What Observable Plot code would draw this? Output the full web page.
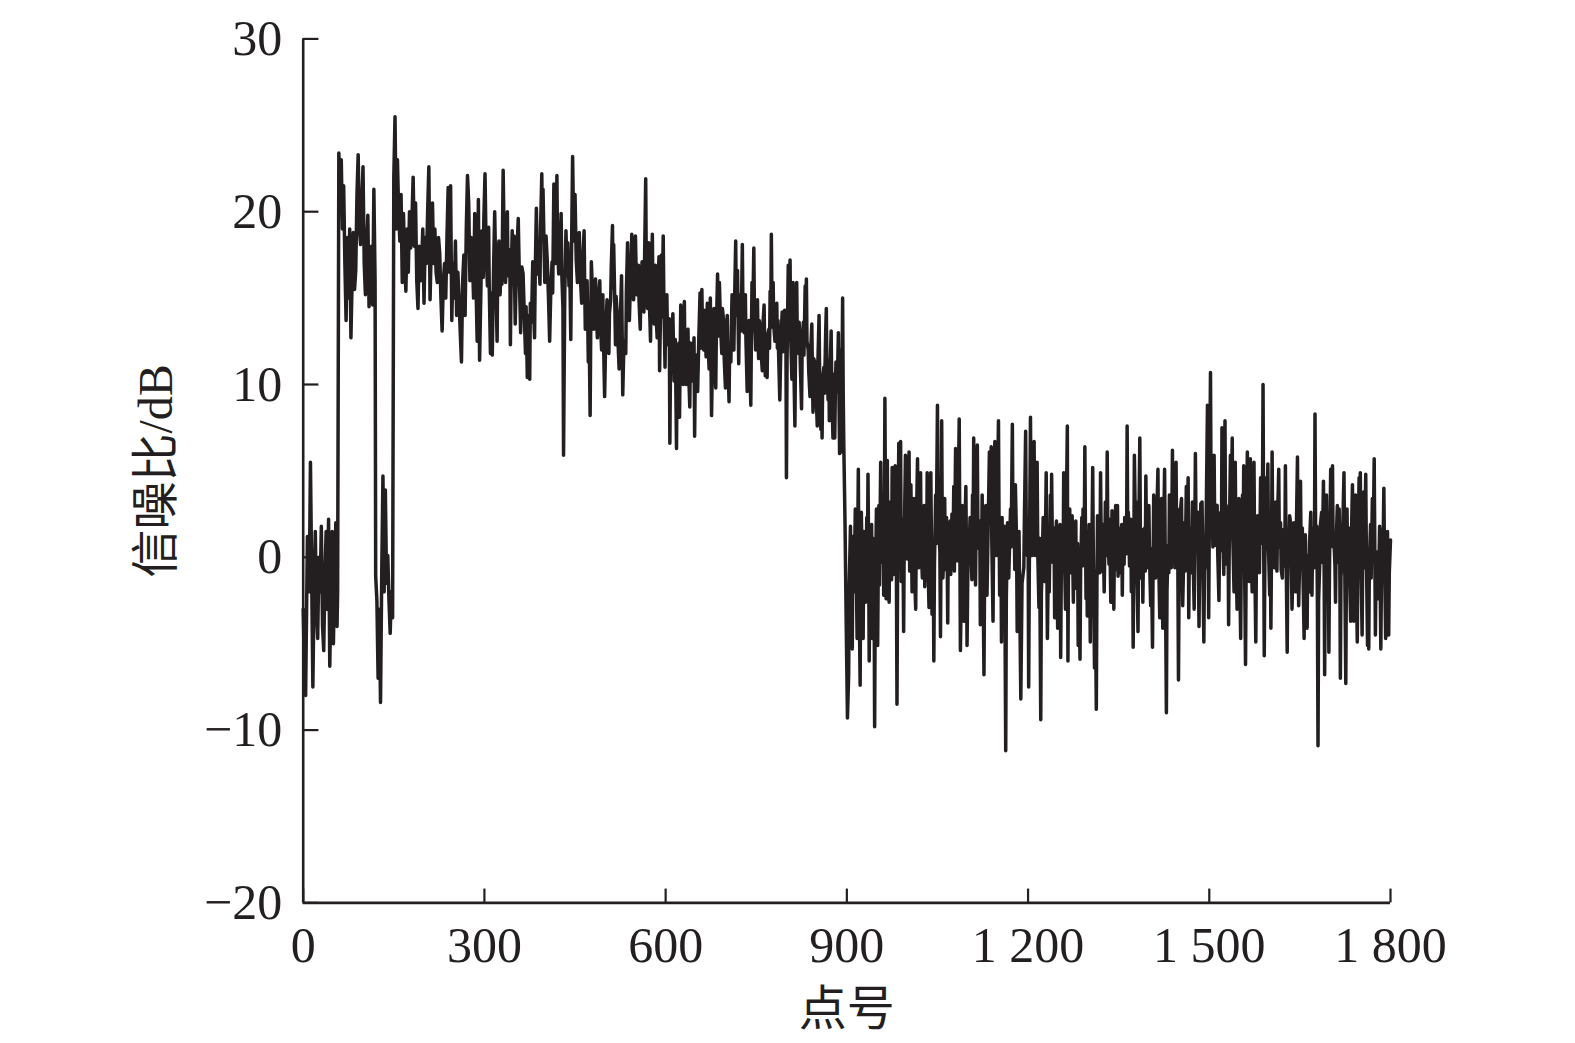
<!DOCTYPE html>
<html>
<head>
<meta charset="utf-8">
<script src="https://cdn.jsdelivr.net/npm/d3@7"></script>
<script src="https://cdn.jsdelivr.net/npm/@observablehq/plot@0.6"></script>
<style>
  html, body { margin: 0; padding: 0; background: #ffffff; }
  #chart { width: 1575px; height: 1043px; }
</style>
</head>
<body>
<div id="chart"></div>
<script>
// [point number, SNR (dB)]
const seg0to300 = [[0,-3],[2,-6.5],[4,-8],[7,1.2],[10,-2],[12,5.5],[14,-1],[16,-7.5],[18,-2],[20,1.5],[22,-3],[24,-4.7],[26,0],[28,-2],[30,1.8],[32,-4],[34,-5.4],[36,-1],[38,1.5],[40,-3],[42,2.2],[44,-6.3],[46,-2],[48,1.5],[50,-5],[52,-1],[54,2],[56,-4],[57,-2],[59,23.4],[61,20],[63,23],[65,19],[67,21.5],[69,17],[71,13.7],[73,18.5],[75,15],[77,19],[79,12.7],[81,16],[83,18.8],[85,15.5],[87,16.6],[89,21],[91,23.3],[93,19],[95,18.1],[97,20.5],[99,22.6],[101,17],[103,15.2],[105,18],[107,19.8],[109,14.5],[111,17.5],[113,18],[115,14.6],[117,21.3],[119,16],[120,-1.1],[122,-2.5],[124,-7],[126,-3],[128,-8.4],[130,-1],[132,4.7],[134,-2],[136,3.9],[138,-1.5],[140,0.1],[142,-2.5],[144,-4.4],[146,-2],[148,-3.5],[150,22],[152,25.5],[154,19],[156,23],[158,20],[160,18.3],[162,21],[164,15.9],[166,19.9],[168,17],[170,15.4],[172,19],[174,16.5],[176,20],[178,17.9],[180,19.5],[182,22],[184,18],[186,20.5],[188,16],[190,14.4],[192,18],[194,16],[196,17],[198,19],[200,14.7],[202,18.5],[204,17],[206,20],[208,22.6],[210,14.9],[212,18],[214,20.5],[216,17],[218,19],[220,16.5],[222,15.9],[224,18.5],[226,17.6],[228,15],[230,13.1],[232,16],[234,17],[236,15],[238,18.5],[240,21.4],[242,16.5],[244,21.5],[246,13.7],[248,17],[250,15],[252,18.3],[254,14],[256,16.5],[258,15],[260,13],[262,11.3],[264,16],[266,17.5],[268,14],[270,19],[272,22.1],[274,20.5],[276,16],[278,18.5],[280,17.5],[282,15],[284,19.9],[286,16],[288,12.5],[290,20.7],[292,11.4]];
const seg300to600 = [[296,18.9],[298,16.2],[299,19.5],[301,22.2],[303,17.4],[305,15.7],[306,17.8],[307,19.1],[308,15.6],[310,11.8],[311,15.3],[313,11.7],[315,16.4],[317,20],[319,16.1],[321,12.5],[322,16.8],[324,18.3],[326,15.2],[328,17.4],[329,15.8],[331,22.4],[333,17.6],[335,15.9],[336,17.9],[338,20],[339,16.3],[340,16.6],[342,17.8],[343,12.3],[344,15.4],[346,18.9],[347,16.2],[349,18.6],[350,15.8],[351,13.5],[353,16.9],[356,19.6],[358,15.9],[360,13],[362,16.8],[364,16.4],[366,14.1],[368,11.8],[369,14.5],[371,10.4],[373,14],[375,10.3],[376,14.7],[378,13.6],[380,17.1],[381,14.8],[383,12.7],[384,16.1],[386,20.2],[388,16.4],[390,17.4],[392,15.8],[393,19.1],[395,22.2],[396,18.4],[397,21.3],[399,17.5],[400,15.9],[402,18.6],[404,17.2],[406,15.1],[408,12.5],[410,15.6],[412,17.1],[413,15.3],[415,21.6],[416,17.9],[418,17],[419,19.2],[420,22.1],[421,18.1],[423,16.4],[425,17.8],[427,19.9],[428,16.5],[430,14.4],[431,5.9],[433,15.2],[435,18.9],[437,16.3],[438,18.2],[440,15.7],[441,17.6],[443,12.6],[444,17.1],[446,23.2],[448,18.3],[450,21],[452,17.2],[454,15.9],[455,17.6],[457,18.8],[459,16.1],[461,14.7],[463,17.2],[465,18.9],[466,15.8],[467,13.2],[469,15.1],[470,16],[471,13.8],[472,11.3],[473,14.2],[475,8.2],[476,13.1],[477,17.1],[479,15.2],[481,13.2],[482,15.7],[484,16.1],[485,14.2],[487,12.7],[489,15.1],[491,16],[492,13.6],[494,12],[495,14.6],[496,15.2],[497,12.8],[499,9.3],[501,13.1],[503,14.9],[504,12.6],[506,11.8],[507,14.1],[509,14.9],[510,16.8],[512,19.2],[513,15.6],[514,18.1],[516,14.4],[517,12.3],[518,15.1],[520,14],[521,12.6],[523,10.9],[525,13.7],[527,16.3],[528,13.1],[529,9.4],[531,12.5],[534,11.8],[535,15.4],[537,18.2],[538,15.1],[540,13.7],[542,16.2],[544,18.7],[545,15.3],[547,14.9],[548,16.6],[550,18.6],[552,15.2],[555,16.9],[556,14.8],[558,13.2],[559,15.4],[561,17.1],[562,14.6],[564,14.2],[565,16.9],[567,21.9],[568,16.5],[570,14.4],[571,16.3],[572,18.2],[573,14.9],[575,12.5],[576,15.6],[578,18.7],[579,15.2],[581,13.5],[582,15.8],[583,16.9],[584,14.1],[586,12.7],[587,15.3],[589,17.4],[590,10.8]];
const seg600to900 = [[593,17.5],[594,13.9],[596,18.6],[597,15.1],[599,11],[600,14.1],[602,15.2],[603,13],[604,12.3],[606,13.8],[607,6.6],[608,10.9],[610,12.3],[612,14.1],[614,10.2],[616,12.6],[618,6.3],[619,11.2],[621,10.5],[622,12.4],[623,8.1],[624,11.3],[625,14.6],[627,11.6],[629,10],[630,12.5],[631,14.8],[632,11.2],[634,10],[635,12.9],[637,13.2],[638,10.8],[640,8.7],[641,12.4],[643,12],[644,10.2],[645,11],[647,12.7],[648,7],[649,10.6],[651,11.7],[652,10.1],[653,9.6],[655,12.8],[657,15.3],[658,12.1],[660,15.5],[661,12.8],[663,12],[664,14.3],[665,13.5],[667,11.6],[669,14.7],[670,12.6],[672,10.9],[673,13.1],[674,15],[675,11.7],[676,8.2],[678,12.3],[680,14.4],[681,11.4],[683,9.8],[684,13.2],[686,16.4],[687,12.8],[689,15.9],[691,13.3],[693,11.8],[694,14.4],[696,13.7],[697,11.5],[699,9.8],[700,12.6],[702,14],[703,11.4],[705,9],[706,12.4],[708,11.3],[709,13.6],[710,15.2],[711,12.6],[713,12],[714,14.6],[716,18.3],[717,14],[719,16.6],[720,13.7],[721,11.2],[722,13.9],[724,15.2],[725,13.1],[727,18.1],[728,14.2],[730,13],[731,14.7],[732,15.2],[733,12.5],[735,9.6],[736,13.1],[738,13.7],[739,11.7],[741,8.8],[742,12.8],[743,15.9],[744,13.5],[746,17.9],[747,14.1],[749,12],[750,14.2],[752,14.9],[753,12.6],[754,11.5],[755,13.7],[757,13.2],[758,11.9],[760,10.8],[761,13.4],[763,14.6],[764,12.2],[765,10.5],[766,12.8],[768,10.4],[769,12.9],[771,13.2],[772,12.1],[773,15.4],[774,13.3],[775,18.7],[776,14.6],[778,15.9],[779,13.4],[781,12.5],[782,14.2],[784,14.7],[785,12.1],[786,13.7],[787,11.8],[789,9.1],[791,12.7],[793,14.2],[794,11.9],[796,12.5],[797,14.3],[799,14],[800,4.6],[801,11.3],[803,16.9],[804,13.4],[806,17.2],[807,12.8],[809,10.3],[810,12.9],[811,15.9],[812,11.6],[814,7.6],[815,11.8],[817,15.9],[818,12.4],[820,11.8],[821,13.6],[822,12.9],[823,11.1],[825,8.6],[826,12.2],[828,13.6],[829,11.7],[831,15.7],[832,12.8],[833,16.1],[834,12.5],[836,12],[837,10.7],[839,9.3],[840,11.8],[842,13.5],[843,10.6],[844,8.4],[845,11.5],[847,11.3],[849,9.7],[851,7.6],[852,11.2],[854,14],[855,10.3],[857,7.4],[858,10.2],[859,6.9],[860,10.4],[862,11],[863,9.5],[865,13.1],[866,14.4],[867,10.8],[869,9.1],[870,11.4],[871,7.9],[872,10.5],[874,13.1],[875,9.9],[877,6.9],[878,10.6],[880,6.9],[881,9.8],[882,11.3],[884,9.6],[886,13],[887,9.2],[888,6],[889,9.8],[890,12],[891,6.1],[892,10.5],[893,15],[894,9.4],[895,6.4],[897,1.9],[899,-4],[901,-9.3]];
const seg900to1200 = [[903,-6.8],[904,-1.5],[906,1.8],[907,-2.5],[909,-5.3],[910,1.2],[912,-2],[913,0.5],[914,2.8],[916,-1.8],[917,-4.7],[918,0.8],[919,5.1],[920,-1.2],[922,-7.4],[923,-0.5],[924,2.6],[926,-2.2],[927,-4.7],[928,1.5],[930,-0.3],[931,-2.6],[933,2.3],[934,-0.8],[935,4.8],[936,0.6],[937,-6],[938,-1.8],[939,0.3],[941,1.9],[942,-4.7],[943,1.1],[945,-0.4],[946,-9.8],[947,-2.3],[949,2.8],[950,-0.9],[951,-5.1],[952,-0.6],[953,3],[954,-1.6],[956,5.5],[957,1.4],[959,-0.3],[960,2.4],[961,-2.2],[962,1.5],[963,9.2],[964,2.1],[965,-2.4],[966,0.9],[967,5.6],[968,-0.4],[970,-2.6],[971,1.7],[972,3.2],[974,-1.3],[975,5.2],[976,1.8],[977,-1],[979,1.2],[980,5.3],[981,2],[982,-0.3],[983,-8.5],[984,-1.1],[986,6.6],[987,0.7],[989,6.7],[990,-1.4],[992,2.2],[993,0.4],[994,-4.3],[995,0.9],[997,5.9],[998,1.3],[1000,-0.1],[1001,2.7],[1003,6.1],[1004,-0.8],[1006,4.2],[1007,1.1],[1008,-2],[1010,0.6],[1011,3.4],[1012,-0.9],[1014,-3],[1015,1.6],[1017,5.7],[1018,1.9],[1019,-0.6],[1021,2],[1022,4.9],[1023,0.7],[1025,-1.2],[1026,2.2],[1028,3],[1029,-1.7],[1030,0.5],[1032,-0.4],[1033,4.9],[1034,0.2],[1036,-2.9],[1037,1.8],[1039,4.9],[1040,0.9],[1041,-3.3],[1043,0.4],[1044,-6],[1045,-0.5],[1047,3.6],[1048,0.8],[1050,8.8],[1051,2.6],[1052,1.7],[1054,0.3],[1055,-4.6],[1056,1.2],[1057,7.9],[1058,1.6],[1059,-1.2],[1061,0.5],[1062,3.4],[1063,-0.7],[1065,2.3],[1066,0.6],[1067,-3.8],[1068,1.4],[1069,-0.2],[1071,2.1],[1072,-1],[1074,2.5],[1076,1.1],[1077,4.1],[1078,-0.8],[1080,6.3],[1081,1.9],[1083,-0.2],[1084,2.4],[1086,8],[1087,1.3],[1088,-5.4],[1090,-0.6],[1091,3],[1092,0.4],[1094,-3.7],[1095,0.8],[1097,4.1],[1098,0.2],[1099,-5.1],[1101,1.6],[1102,-0.2],[1104,2.3],[1105,0.9],[1107,-1.3],[1108,3.6],[1109,0.7],[1110,6.9],[1111,1.4],[1113,-1.6],[1114,2],[1116,6.5],[1117,1.2],[1119,0.5],[1120,2.1],[1121,-3.9],[1123,-0.3],[1124,3.6],[1125,0.5],[1127,-6.8],[1128,-1.2],[1130,3],[1131,0.3],[1132,-2.2],[1134,1.9],[1136,6.1],[1137,2.2],[1139,6.4],[1140,0.8],[1142,-3.7],[1143,1.5],[1145,6.7],[1146,2.1],[1148,0.1],[1149,2.6],[1151,7.9],[1152,1.8],[1153,-2.2],[1155,0.9],[1156,-4.9],[1157,2.3],[1158,-0.6],[1160,-0.5],[1161,1.8],[1163,-11.2],[1164,-2.4],[1166,2],[1167,0.2],[1168,-1.2],[1170,1.5],[1171,2.8],[1172,0.6],[1174,7.7],[1175,1.9],[1177,2.3],[1178,-0.7],[1179,4.2],[1181,0.8],[1182,-4.3],[1183,-0.2],[1185,1.5],[1186,-1.9],[1188,-8.2],[1190,-1.5]];
const seg1200to1500 = [[1193,-0.6],[1194,2.4],[1196,7.3],[1197,1.6],[1199,0.1],[1200,2.2],[1201,-7.5],[1202,-1.1],[1204,8.1],[1205,1.9],[1207,0.1],[1208,2.5],[1210,6.7],[1211,1.2],[1212,0.1],[1213,2.8],[1215,5.5],[1216,0.4],[1218,-2.9],[1219,1.1],[1221,-9.4],[1222,-2.1],[1223,-1],[1225,2.3],[1226,-0.6],[1228,-1.4],[1229,1.8],[1230,4.9],[1231,0.2],[1232,-4.7],[1234,0.9],[1235,-2],[1236,0.6],[1237,3.6],[1238,0.3],[1239,4.8],[1240,1.5],[1241,-0.3],[1243,1.7],[1244,-3.5],[1245,0.2],[1247,2.1],[1248,-0.5],[1249,-4.1],[1250,1.2],[1251,0.5],[1253,1.9],[1254,-5.8],[1255,-0.9],[1257,1],[1258,-0.8],[1259,4.9],[1260,0.7],[1262,-3],[1263,1.4],[1265,7.6],[1266,-6],[1267,0.4],[1269,2.8],[1270,-0.9],[1272,0.5],[1273,2.4],[1275,-2.6],[1276,1.3],[1278,-0.3],[1279,2.1],[1280,-1.8],[1282,0.8],[1283,-5.1],[1284,-0.4],[1286,-5.9],[1287,-0.7],[1289,2.3],[1290,-0.5],[1291,2.8],[1293,0.9],[1294,6.4],[1295,1.6],[1296,-2.4],[1297,1.1],[1298,-3.4],[1300,-0.2],[1301,1.9],[1302,-0.6],[1303,-4.9],[1304,0.4],[1305,-1.2],[1306,1.7],[1307,5.2],[1308,0.3],[1310,-6.4],[1311,-0.8],[1313,-8.8],[1314,-1.6],[1315,2.4],[1316,-0.3],[1317,0.7],[1319,-0.9],[1320,4.9],[1321,1.2],[1323,-0.8],[1324,1.9],[1326,-2],[1327,0.6],[1328,3.2],[1330,0.1],[1331,6.1],[1332,1.5],[1334,-0.4],[1335,2.2],[1337,-2.6],[1338,0.4],[1339,2.7],[1341,0.8],[1342,-3],[1343,0.9],[1345,3],[1346,-0.7],[1348,3],[1349,-1.1],[1350,1.7],[1352,-0.9],[1353,0.3],[1355,1.9],[1356,-2.2],[1357,1.3],[1359,-0.4],[1360,2.3],[1361,1.7],[1363,0.2],[1364,7.6],[1365,1.4],[1366,2.6],[1368,-0.5],[1369,0.1],[1370,2.2],[1371,-2],[1373,0.6],[1374,-5.2],[1375,-0.3],[1376,5.9],[1378,0.9],[1379,3.2],[1380,-0.4],[1382,-4.3],[1383,0.7],[1385,6.9],[1386,1.1],[1387,-1.2],[1389,1.6],[1390,-2.6],[1391,0.2],[1393,1.7],[1394,-0.8],[1395,4.7],[1396,1.3],[1397,-0.6],[1399,1.2],[1400,3],[1401,0.1],[1403,-2.8],[1404,0.5],[1406,-5.2],[1407,-0.4],[1408,3.6],[1410,0.9],[1411,-1.2],[1413,2.2],[1415,5.1],[1416,0.3],[1418,-3.5],[1419,0.6],[1421,3.4],[1422,0.2],[1423,-4.1],[1424,-0.1],[1426,5.1],[1427,0.4],[1429,-9],[1430,-1.9],[1432,0.7],[1433,-0.9],[1434,3.6],[1436,0.9],[1437,-0.6],[1438,2.1],[1439,6.2],[1440,0.8],[1442,2.3],[1443,-0.6],[1445,5.5],[1446,0.4],[1447,2.8],[1448,-0.7],[1449,-7.1],[1450,-1.3],[1451,0.5],[1452,2.6],[1454,3.4],[1455,-0.2],[1456,-2.8],[1458,0.6],[1459,2],[1460,-0.8],[1462,4.1],[1463,0.9],[1465,4.6],[1466,-3.5],[1467,0.3],[1469,1.7],[1470,-0.9],[1472,3.2],[1473,0.4],[1475,-3],[1476,0.8],[1477,6],[1478,1.9],[1480,0.5],[1481,2.6],[1483,-4],[1484,-0.4],[1486,3.1]];
const seg1500to1800 = [[1488,3.2],[1489,0.4],[1491,-4.9],[1492,-0.8],[1494,-0.1],[1495,2.6],[1497,8.8],[1498,1.4],[1499,-3.5],[1500,1.8],[1502,10.7],[1503,3.3],[1505,2.8],[1506,0.6],[1508,5.9],[1509,1.8],[1510,0.7],[1511,2.9],[1513,3],[1514,0.2],[1516,-2.5],[1517,0.9],[1519,2.6],[1520,0.4],[1521,7.5],[1522,2.4],[1524,-1],[1525,2.1],[1526,7.9],[1527,1.2],[1528,3],[1529,-0.4],[1530,0],[1531,2.2],[1532,-3.9],[1533,0.5],[1535,5.9],[1536,1.8],[1538,6.9],[1539,1.1],[1541,-2],[1542,1.6],[1543,5.5],[1544,0.9],[1546,-3],[1547,0.8],[1549,3.4],[1550,-0.3],[1552,-4.7],[1553,0.4],[1555,3.6],[1556,0.7],[1557,5.3],[1558,1.2],[1560,-6.2],[1561,-0.7],[1563,6.1],[1564,1.5],[1566,-1.4],[1567,1.8],[1568,5.7],[1569,0.9],[1571,-2],[1572,1.4],[1574,5.5],[1575,0.6],[1577,-4.9],[1578,-0.2],[1579,0.5],[1580,2.4],[1582,2],[1583,-0.9],[1585,4.6],[1586,0.8],[1588,3.2],[1589,10],[1590,1.6],[1591,-5.7],[1592,-0.3],[1594,4.6],[1595,1.1],[1597,5.4],[1598,0.6],[1600,-2.2],[1601,0.7],[1602,-4.1],[1603,0.3],[1604,6.1],[1605,1.5],[1607,1.9],[1608,-0.6],[1610,3.2],[1611,0.4],[1612,-0.8],[1613,2.2],[1615,5.1],[1616,0.6],[1618,2],[1619,-0.7],[1621,-1.2],[1622,1.6],[1623,0.9],[1625,-0.5],[1626,5.3],[1627,0.8],[1629,-5.5],[1630,-0.6],[1632,0.5],[1633,2.4],[1635,1.9],[1636,-0.8],[1637,-3],[1639,0.7],[1640,2],[1641,-0.5],[1643,-2],[1644,1.2],[1646,5.8],[1647,0.4],[1648,-2.8],[1650,0.5],[1651,4.4],[1652,0.3],[1654,1.7],[1655,-0.6],[1657,-4.7],[1658,-0.2],[1659,1.3],[1660,-0.9],[1662,-4.1],[1663,0.1],[1665,-2],[1666,0.8],[1668,2.6],[1669,-0.4],[1670,-2.2],[1671,0.9],[1673,1.7],[1674,-0.6],[1675,8.3],[1676,1.5],[1677,0.1],[1678,1.8],[1679,-2.6],[1680,-10.9],[1681,-2.5],[1683,-0.2],[1684,1.9],[1686,2.6],[1687,-0.3],[1689,4.4],[1690,0.2],[1691,-6.8],[1692,-0.9],[1694,3.6],[1695,0.4],[1696,-1],[1697,1.1],[1698,-5.5],[1699,-0.6],[1701,5.1],[1702,0.9],[1704,5.3],[1705,0.6],[1706,1.3],[1708,-0.4],[1709,-2.6],[1710,0.8],[1712,3],[1713,-0.3],[1715,2.8],[1716,0.1],[1717,-7],[1718,-1.1],[1720,-0.2],[1721,1.7],[1723,4.9],[1724,0.6],[1726,-7.3],[1727,-0.8],[1728,2.8],[1729,-0.4],[1731,1.7],[1732,-0.6],[1734,-3.7],[1735,0.5],[1737,4.2],[1738,0.2],[1739,-3.7],[1740,0.3],[1742,3.6],[1743,-0.2],[1745,-4.9],[1746,-0.3],[1748,4.6],[1749,0.5],[1750,4.9],[1751,0.2],[1753,-4.5],[1754,-0.1],[1756,3.8],[1757,-0.6],[1759,4.8],[1760,0.4],[1762,-5.1],[1763,-0.7],[1764,-5.3],[1765,-0.3],[1767,1.9],[1768,-1.2],[1770,3.4],[1771,-0.2],[1773,5.7],[1774,0.6],[1775,-4.5],[1776,-0.8],[1778,0.3],[1779,-2.4],[1781,-0.2],[1782,1.8],[1784,-5.3],[1785,-1.1],[1786,1.6],[1787,-1.4],[1789,4],[1790,0.3],[1792,-4.7],[1793,-0.6],[1795,1.5],[1796,-1.8],[1797,-4.5],[1798,-0.9],[1800,1]];

const xTicks = [0, 300, 600, 900, 1200, 1500, 1800];
const xTickLabels = ["0", "300", "600", "900", "1 200", "1 500", "1 800"];
const yTicks = [-20, -10, 0, 10, 20, 30];
const yTickLabels = ["\u221220", "\u221210", "0", "10", "20", "30"];
const xTitle = "点号";
const yTitle = "信噪比/dB";

const ink = "#231f20";
const serif = "'Liberation Serif', 'Noto Sans CJK SC', serif";

const data = [...seg0to300, ...seg300to600, ...seg600to900, ...seg900to1200, ...seg1200to1500, ...seg1500to1800]
  .map(([n, v]) => ({n, v}));

const chart = Plot.plot({
  width: 1575,
  height: 1043,
  marginLeft: 302.7,
  marginRight: 185,
  marginTop: 38.4,
  marginBottom: 140.6,
  x: {domain: [0, 1800]},
  y: {domain: [-20, 30]},
  style: {fontFamily: serif, fontSize: "50px", color: ink, background: "#ffffff"},
  marks: [
    Plot.line(data, {x: "n", y: "v", stroke: ink, strokeWidth: 3.5}),
    Plot.ruleX([0], {y1: -20, y2: 30, stroke: ink, strokeWidth: 2.6}),
    Plot.ruleY([-20], {x1: 0, x2: 1800, stroke: ink, strokeWidth: 2.6}),
    Plot.ruleY(yTicks, {x1: 0, x2: 26, stroke: ink, strokeWidth: 2.2}),
    Plot.ruleX(xTicks, {y1: -20, y2: -19.2, stroke: ink, strokeWidth: 2.2}),
    Plot.axisY({ticks: yTicks, tickSize: 0, tickPadding: 21, tickFormat: (d, i) => yTickLabels[i], label: null}),
    Plot.axisX({ticks: xTicks, tickSize: 0, tickPadding: 24, tickFormat: (d, i) => xTickLabels[i], label: null}),
    Plot.text([yTitle], {frameAnchor: "left", dx: -146.7, rotate: -90, textAnchor: "middle", lineAnchor: "middle", fontSize: 48, fontFamily: serif}),
    Plot.text([xTitle], {frameAnchor: "bottom", dy: 107, textAnchor: "middle", lineAnchor: "middle", fontSize: 48, fontFamily: serif})
  ]
});
document.getElementById("chart").appendChild(chart);
</script>
</body>
</html>
